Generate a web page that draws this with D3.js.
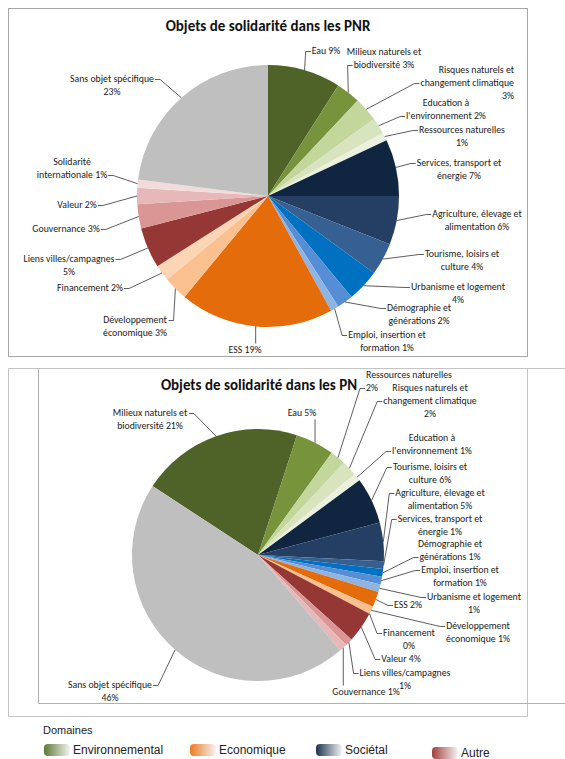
<!DOCTYPE html>
<html><head><meta charset="utf-8">
<script src="https://cdn.jsdelivr.net/npm/d3@7"></script>
<style>
body{margin:0;background:#fff}
.lbl{font-family:Carlito,Lato,"Liberation Sans",sans-serif;font-size:9.8px;fill:#1a1a1a}
.ttl{font-family:Carlito,Lato,"Liberation Sans",sans-serif;font-size:15px;font-weight:bold;fill:#111}
.leg{font-family:"Liberation Sans",Arial,sans-serif;fill:#222}
</style></head>
<body><svg id="c" width="565" height="759"></svg>
<script>
// ---------------- DATA ----------------
const pnrCategories = ["Eau","Milieux naturels et biodiversité","Risques naturels et changement climatique","Education à l'environnement","Ressources naturelles","Services, transport et énergie","Agriculture, élevage et alimentation","Tourisme, loisirs et culture","Urbanisme et logement","Démographie et générations","Emploi, insertion et formation","ESS","Développement économique","Financement","Liens villes/campagnes","Gouvernance","Valeur","Solidarité internationale","Sans objet spécifique"];
const pnrValues = [9,3,3,2,1,7,6,4,4,2,1,19,3,2,5,3,2,1,23];
const pnrDomains = ["env","env","env","env","env","soc","soc","soc","soc","soc","soc","eco","eco","eco","aut","aut","aut","aut","none"];

const pnCategories = ["Milieux naturels et biodiversité","Eau","Ressources naturelles","Risques naturels et changement climatique","Education à l'environnement","Tourisme, loisirs et culture","Agriculture, élevage et alimentation","Services, transport et énergie","Démographie et générations","Emploi, insertion et formation","Urbanisme et logement","ESS","Développement économique","Financement","Valeur","Liens villes/campagnes","Gouvernance","Sans objet spécifique"];
const pnValues = [21,5,2,2,1,6,5,1,1,1,1,2,1,0,4,1,1,46];
const pnDomains = ["env","env","env","env","env","soc","soc","soc","soc","soc","soc","eco","eco","eco","aut","aut","aut","none"];

const titles = ["Objets de solidarité dans les PNR","Objets de solidarité dans les PN"];
const legendTitle = "Domaines";
const legendLabels = ["Environnemental","Economique","Sociétal","Autre"];
const legendDomains = ["env","eco","soc","aut"];

// ---------------- STYLE / LAYOUT ----------------
const palette = {
  env:["#4f6228","#77933c","#c3d69b","#d7e4bd","#ebf1de"],
  soc:["#10253f","#243f63","#376092","#0070c0","#558ed5","#8eb4e3"],
  eco:["#e46c0a","#fac090","#fcd5b5"],
  aut:["#953735","#d99694","#e6b9b8","#f2dcdb"],
  none:["#bfbfbf"]
};
const legendColor = {env:"#5b7a34",eco:"#ec7a22",soc:"#1c344f",aut:"#a23f3d"};

// words per line for each label, [x, firstBaseline, leaderMode, attachLine, align]
const pnrWrap = [[2],[3,2],[3,2,1],[2,2],[2,1],[3,2],[3,2],[3,2],[3,1],[2,2],[3,2],[2],[1,2],[2],[2,1],[2],[2],[1,2],[3,1]];
const pnrLayout = [
 [326,54,"l",0],[384,55,"l",1],[514,73,"l",1,"end"],[446,106,"l",1],[462,133,"l",0],
 [459,166,"l",0],[477,217,"l",0],[462,257,"l",0],[458,290,"l",0],[419,311,"l",0],[387,338,"l",0],
 [245,353,"v",0],[135,323,"r",0],[90,291,"r",0],
 [69,262,"r",0],[66,232,"r",0],[77,208,"r",0],[72,165,"r",1],[112,82,"r",0]
];
const pnWrap = [[3,2],[2],[2,1],[3,2,1],[2,2],[3,2],[3,2],[3,2],[2,2],[3,2],[3,1],[2],[1,2],[1,1],[2],[2,1],[2],[3,1]];
const pnLayout = [
 [150,416,"r",0],[302,416,"v",0],[366,378,"l",1,"start"],[430,391,"l",1],[432,441,"l",1],
 [430,470,"l",0],[440,496,"l",0],[440,522,"l",0],[450,547,"l",1],[460,573,"l",0],[474,600,"l",0],
 [408,608,"l",0],[478,629,"l",0],[409,636,"l",0],
 [401,662,"l",0],[405,676,"l",0],[366,695,"v",0],[110,688,"r",0]
];

const svg = d3.select("#c");
const LH = 13;

// frames
const frame = svg.append("g").attr("fill","none");
frame.append("rect").attr("x",8.5).attr("y",8.5).attr("width",519).attr("height",348).attr("stroke","#a6a6a6");
frame.append("path").attr("d","M8.5,716.5V368.5H565M527.5,368.5V716.5H8.5").attr("stroke","#c4c4c4");
frame.append("path").attr("d","M38.5,368.5V703.5H565").attr("stroke","#b0b0b0");

function drawPie(cfg){
  const g = svg.append("g");
  g.append("text").attr("class","ttl").attr("x",cfg.titleX).attr("y",cfg.titleY)
    .attr("text-anchor","middle").text(cfg.title);
  const rank = {};
  const colors = cfg.domains.map(d => { rank[d] = (rank[d]||0); return palette[d][rank[d]++]; });
  const data = cfg.values.map((v,i)=>({v,i}));
  const pie = d3.pie().sort(null).value(d=>d.v)
      .startAngle(cfg.start).endAngle(cfg.start + 2*Math.PI);
  const arcs = pie(data);
  const arc = d3.arc().innerRadius(0).outerRadius(cfg.r);
  const pg = g.append("g").attr("transform",`translate(${cfg.cx},${cfg.cy})`);
  pg.selectAll("path").data(arcs).join("path")
    .attr("d",arc).attr("fill",d=>colors[d.data.i]);

  const lg = g.append("g");
  arcs.forEach((a,i)=>{
    const [x,y,mode,att,align] = cfg.layout[i];
    const words = (cfg.categories[i] + " " + cfg.values[i] + "%").split(" ");
    const lines = []; let k=0;
    cfg.wrap[i].forEach(n=>{ lines.push(words.slice(k,k+n).join(" ")); k+=n; });
    const tg = lg.append("g");
    const nodes = lines.map((s,j)=> tg.append("text").attr("class","lbl")
        .attr("x",x).attr("y",y+j*LH).attr("text-anchor",align||"middle").text(s).node());
    const ang = (a.startAngle+a.endAngle)/2;
    const p0 = [cfg.cx + cfg.r*Math.sin(ang), cfg.cy - cfg.r*Math.cos(ang)];
    let pts;
    if(mode==="v"){
      const b = tg.node().getBBox();
      const ay = (b.y > p0[1]) ? b.y - 0.5 : b.y + b.height + 0.5;
      pts = [p0,[p0[0],ay]];
    } else {
      const b = nodes[att].getBBox();
      const my = b.y + b.height/2 + 0.5;
      if(mode==="l"){ const A=[b.x-1,my]; pts=[p0,[A[0]-5,my],A]; }
      else { const A=[b.x+b.width+1,my]; pts=[p0,[A[0]+5,my],A]; }
    }
    lg.append("path").attr("d",d3.line()(pts)).attr("fill","none")
      .attr("stroke","#333").attr("stroke-width",0.8);
  });
}

drawPie({title:titles[0],titleX:268,titleY:31,categories:pnrCategories,values:pnrValues,
  domains:pnrDomains,wrap:pnrWrap,layout:pnrLayout,cx:268,cy:196,r:131,start:0});

const pnEauStartDeg = 18;
const pnTotal = d3.sum(pnValues);
drawPie({title:titles[1],titleX:259,titleY:390,categories:pnCategories,values:pnValues,
  domains:pnDomains,wrap:pnWrap,layout:pnLayout,cx:258,cy:555,r:126,
  start: pnEauStartDeg*Math.PI/180 - 2*Math.PI*pnValues[0]/pnTotal});

// legend
const leg = svg.append("g");
leg.append("text").attr("class","leg").attr("x",43).attr("y",734).attr("font-size",11).text(legendTitle);
const legPos = [[44,744],[190,744],[316,744],[432,747]];
const defs = svg.append("defs");
legendDomains.forEach((d,i)=>{
  const gr = defs.append("linearGradient").attr("id","g"+d);
  gr.append("stop").attr("offset","0%").attr("stop-color",legendColor[d]);
  gr.append("stop").attr("offset","100%").attr("stop-color","#f4f4f4");
  const [x,y] = legPos[i];
  leg.append("rect").attr("x",x).attr("y",y).attr("width",26).attr("height",12).attr("rx",4)
    .attr("fill",`url(#g${d})`);
  leg.append("text").attr("class","leg").attr("x",x+29).attr("y",y+10).attr("font-size",12).text(legendLabels[i]);
});
</script></body></html>
